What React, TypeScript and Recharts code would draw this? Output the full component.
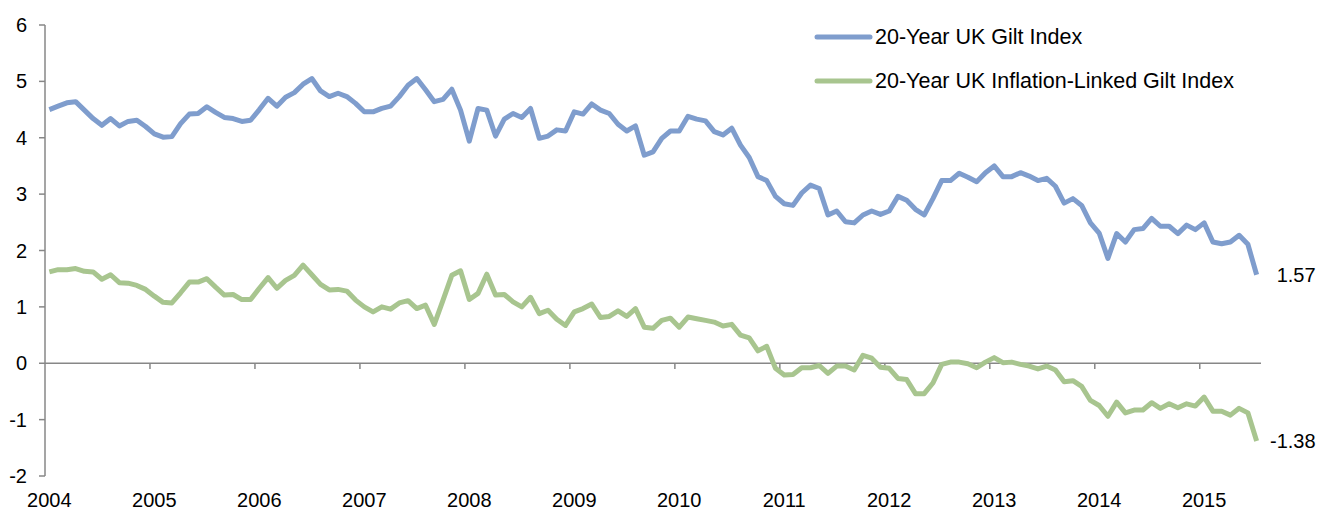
import {
  Legend,
  Line,
  LineChart,
  ReferenceLine,
  XAxis,
  YAxis,
} from "recharts"

// monthly yields, Jan 2004 .. Jul 2015
const GILT = [
  4.5, 4.56, 4.62, 4.64, 4.49, 4.34, 4.22, 4.34, 4.21, 4.29, 4.31, 4.2,
  4.07, 4.01, 4.02, 4.25, 4.42, 4.43, 4.55, 4.45, 4.36, 4.34, 4.29, 4.31,
  4.5, 4.7, 4.56, 4.72, 4.8, 4.95, 5.05, 4.83, 4.73, 4.79, 4.73, 4.61,
  4.46, 4.46, 4.52, 4.56, 4.73, 4.93, 5.05, 4.85, 4.64, 4.68, 4.86, 4.49,
  3.94, 4.52, 4.49, 4.03, 4.33, 4.43, 4.36, 4.52, 3.99, 4.03, 4.14, 4.12,
  4.46, 4.42, 4.6, 4.49, 4.43, 4.24, 4.12, 4.21, 3.69, 3.75, 3.99, 4.12,
  4.12, 4.38, 4.33, 4.3, 4.11, 4.05, 4.17, 3.87, 3.65, 3.31, 3.24, 2.96,
  2.83, 2.8, 3.02, 3.16, 3.1, 2.63, 2.7, 2.51, 2.49, 2.63, 2.7, 2.64,
  2.7, 2.96, 2.89, 2.73, 2.63, 2.92, 3.24, 3.24, 3.37, 3.3, 3.22, 3.38,
  3.5, 3.31, 3.31, 3.38, 3.32, 3.24, 3.28, 3.14, 2.84, 2.92, 2.8, 2.49,
  2.31, 1.86, 2.3, 2.15, 2.37, 2.39, 2.57, 2.43, 2.43, 2.3, 2.45, 2.37,
  2.49, 2.15, 2.12, 2.15, 2.27, 2.11, 1.57,
]

const LINKER = [
  1.62, 1.66, 1.66, 1.68, 1.63, 1.62, 1.49, 1.57, 1.43, 1.42, 1.38, 1.31,
  1.19, 1.08, 1.07, 1.25, 1.44, 1.44, 1.5, 1.35, 1.21, 1.22, 1.13, 1.13,
  1.33, 1.52, 1.33, 1.47, 1.56, 1.74, 1.57, 1.4, 1.3, 1.31, 1.28, 1.12,
  1.0, 0.91, 1.0, 0.96, 1.07, 1.11, 0.97, 1.03, 0.69, 1.12, 1.56, 1.64,
  1.13, 1.24, 1.58, 1.21, 1.22, 1.09, 1.0, 1.17, 0.88, 0.94, 0.78, 0.67,
  0.91, 0.97, 1.05, 0.81, 0.83, 0.93, 0.83, 0.97, 0.64, 0.62, 0.76, 0.8,
  0.64, 0.82, 0.79, 0.76, 0.73, 0.66, 0.69, 0.5, 0.45, 0.22, 0.3, -0.09,
  -0.21, -0.2, -0.08, -0.08, -0.04, -0.18, -0.05, -0.05, -0.12, 0.14, 0.09, -0.07,
  -0.09, -0.27, -0.29, -0.54, -0.54, -0.35, -0.02, 0.02, 0.02, -0.01, -0.08, 0.02,
  0.1, 0.01, 0.02, -0.02, -0.05, -0.1, -0.05, -0.12, -0.33, -0.31, -0.41, -0.66,
  -0.75, -0.94, -0.69, -0.88, -0.83, -0.83, -0.7, -0.8, -0.72, -0.79, -0.72, -0.76,
  -0.6, -0.85, -0.85, -0.92, -0.8, -0.88, -1.38,
]

const START_YEAR = 2004
const YEAR_LABELS = [2004, 2005, 2006, 2007, 2008, 2009, 2010, 2011, 2012, 2013, 2014, 2015]
const Y_TICKS = [-2, -1, 0, 1, 2, 3, 4, 5, 6]

const SERIES = [
  { key: "gilt", name: "20-Year UK Gilt Index", color: "#7F9DCD" },
  { key: "linker", name: "20-Year UK Inflation-Linked Gilt Index", color: "#A8C58F" },
]

const AXIS = "#878787"
const FONT = "'Liberation Sans', Arial, sans-serif"

const data = GILT.map((g, i) => ({ i, gilt: g, linker: LINKER[i] }))
const last = data.length - 1

const labelTicks = YEAR_LABELS.map((y) => (y - START_YEAR) * 12)
// Excel-style marks sit between Dec and Jan
const markTicks = YEAR_LABELS.slice(1).map((y) => (y - START_YEAR) * 12 - 0.5)

const endLabel = (props: any) => {
  const { x, y, value, index } = props
  if (index !== last) return null
  return (
    <text
      x={x + 59}
      y={y}
      dy="0.35em"
      textAnchor="end"
      fontSize={20}
      fontFamily={FONT}
      fill="#000"
    >
      {Number(value).toFixed(2)}
    </text>
  )
}

const LegendBox = () => (
  <div style={{ fontFamily: FONT, fontSize: 21.5, color: "#000" }}>
    {SERIES.map((s) => (
      <div key={s.key} style={{ display: "flex", alignItems: "center", height: 44 }}>
        <svg width={61} height={10}>
          <line x1={3} y1={5} x2={56} y2={5} stroke={s.color} strokeWidth={5} strokeLinecap="round" />
        </svg>
        <span style={{ whiteSpace: "nowrap" }}>{s.name}</span>
      </div>
    ))}
  </div>
)

export default function App() {
  return (
    <div style={{ position: "absolute", left: 0, top: 0, background: "#fff" }}>
      <LineChart
        width={1332}
        height={511}
        data={data}
        margin={{ top: 25, right: 71, bottom: 0, left: 0 }}
      >
        <XAxis
          dataKey="i"
          type="number"
          domain={[-0.5, last + 0.5]}
          ticks={labelTicks}
          tickFormatter={(v: number) => String(START_YEAR + v / 12)}
          axisLine={false}
          tickLine={false}
          tickSize={0}
          tickMargin={17}
          height={35}
          interval={0}
          tick={{ fontSize: 20, fill: "#000", fontFamily: FONT }}
        />
        <YAxis
          domain={[-2, 6]}
          ticks={Y_TICKS}
          width={45}
          axisLine={{ stroke: AXIS, strokeWidth: 1.5 }}
          tickLine={{ stroke: AXIS, strokeWidth: 1.5 }}
          tickSize={6}
          tickMargin={12}
          interval={0}
          tick={{ fontSize: 20, fill: "#000", fontFamily: FONT }}
        />
        <ReferenceLine y={0} stroke={AXIS} strokeWidth={1.5} />
        {markTicks.map((t) => (
          <ReferenceLine
            key={t}
            segment={[
              { x: t, y: 0 },
              { x: t, y: -0.1 },
            ]}
            stroke={AXIS}
            strokeWidth={1.5}
          />
        ))}
        <Legend
          layout="vertical"
          align="center"
          verticalAlign="middle"
          content={() => <LegendBox />}
          wrapperStyle={{ left: 814, top: 15, width: 480 }}
        />
        {SERIES.map((s) => (
          <Line
            key={s.key}
            dataKey={s.key}
            name={s.name}
            stroke={s.color}
            strokeWidth={5}
            strokeLinejoin="round"
            dot={false}
            isAnimationActive={false}
            label={endLabel}
          />
        ))}
      </LineChart>
    </div>
  )
}
